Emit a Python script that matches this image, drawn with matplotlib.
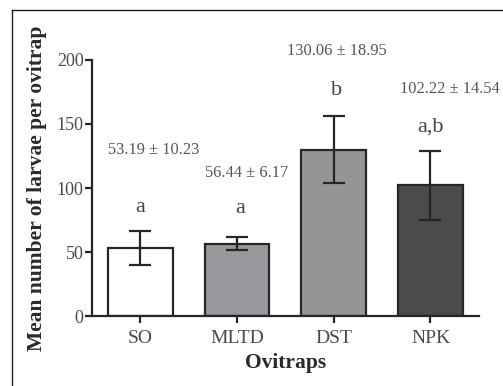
import matplotlib
matplotlib.use("Agg")
import matplotlib.pyplot as plt
from matplotlib.lines import Line2D

# data
traps = ["SO", "MLTD", "DST", "NPK"]
means = [53.19, 56.44, 130.06, 102.22]
errs = [13.5, 5.2, 26.0, 27.0]   # drawn error bar half-lengths
stats = ["53.19 \u00b1 10.23", "56.44 \u00b1 6.17", "130.06 \u00b1 18.95", "102.22 \u00b1 14.54"]
letters = ["a", "a", "b", "a,b"]
colors = ["#ffffff", "#98989c", "#959598", "#4b4b4e"]

plt.rcParams["font.family"] = ["Liberation Serif", "DejaVu Serif"]

fig = plt.figure(figsize=(5.03, 3.86), dpi=100)
ax = fig.add_axes([0.1829, 0.1813, 0.952 - 0.1829, 0.8446 - 0.1813])

x = list(range(len(traps)))
ax.bar(x, means, width=0.67, color=colors, edgecolor="#262626", linewidth=1.6,
       yerr=errs, capsize=8, error_kw=dict(ecolor="#262626", elinewidth=1.6, capthick=1.6))

ax.set_xlim(-0.5, 3.5)
ax.set_ylim(0, 200)
ax.set_yticks([0, 50, 100, 150, 200])
ax.set_xticks(x)
ax.set_xticklabels(traps)

for s in ["top", "right"]:
    ax.spines[s].set_visible(False)
for s in ["left", "bottom"]:
    ax.spines[s].set_linewidth(1.6)
    ax.spines[s].set_color("#262626")
ax.tick_params(axis="both", direction="out", length=5, width=1.6, color="#262626",
               labelcolor="#4a4a4a")
ax.tick_params(axis="y", pad=1, labelsize=13)
ax.tick_params(axis="x", pad=5, labelsize=14)

ax.set_ylabel("Mean number of larvae per ovitrap", fontsize=15.5, fontweight="bold",
              color="#2a2a2a")
ax.yaxis.set_label_coords(-0.116, 0.5)
ax.set_xlabel("Ovitraps", fontsize=15.5, fontweight="bold", color="#2a2a2a")
ax.xaxis.set_label_coords(0.5, -0.145)

# annotation placement (layout only)
stat_xy = [(0.14, 130), (0.1, 112), (0.03, 207), (0.2, 177)]
letter_xy = [(0.0, 85), (0.03, 83.6), (0.03, 176), (0.0, 148)]
for i in x:
    dx, yy = stat_xy[i]
    ax.text(i + dx, yy, stats[i], ha="center", va="center", fontsize=11.8, color="#555555")
    dx, yy = letter_xy[i]
    ax.text(i + dx, yy, letters[i], ha="center", va="center", fontsize=16, color="#444444")

# thin frame around the figure (left and top edges visible)
fig.add_artist(Line2D([12 / 503, 12 / 503], [0, 1 - 10 / 386], transform=fig.transFigure,
                      color="#222222", linewidth=1.0))
fig.add_artist(Line2D([12 / 503, 1], [1 - 10 / 386, 1 - 10 / 386], transform=fig.transFigure,
                      color="#222222", linewidth=1.0))

fig.savefig("out.png", dpi=100)
